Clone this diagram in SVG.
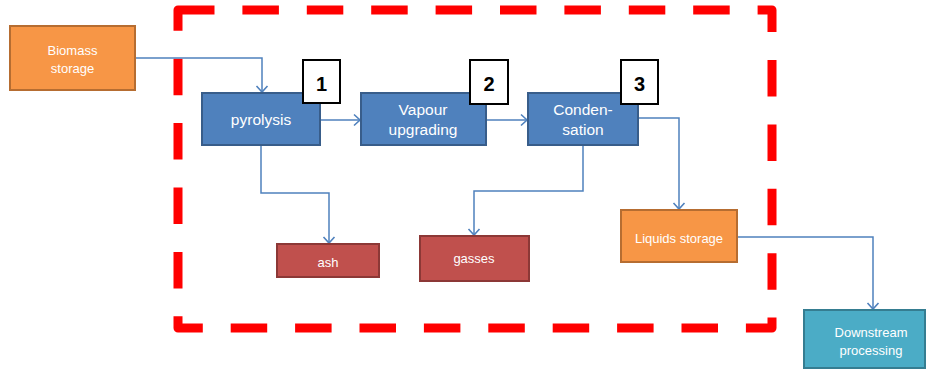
<svg xmlns="http://www.w3.org/2000/svg" width="926" height="371" viewBox="0 0 926 371">
  <style>
    .lbl { font-family: "Liberation Sans", Arial, sans-serif; fill: #ffffff; text-anchor: middle; }
    .sm { font-size: 13px; }
    .md { font-size: 15.5px; }
    .num { font-family: "Liberation Sans", Arial, sans-serif; font-size: 20px; font-weight: bold; fill: #000000; text-anchor: middle; }
    .orange { fill: #F79646; stroke: #B66D31; stroke-width: 2; }
    .blue { fill: #4F81BD; stroke: #385D8A; stroke-width: 2; }
    .red { fill: #C0504D; stroke: #8C3836; stroke-width: 2; }
    .teal { fill: #4BACC6; stroke: #357D91; stroke-width: 2; }
    .tag { fill: #ffffff; stroke: #000000; stroke-width: 2; }
    .conn { fill: none; stroke: #4F81BD; stroke-width: 1.5; marker-end: url(#arrow); }
    .boundary { fill: none; stroke: #FF0000; stroke-width: 9; stroke-dasharray: 36.5 27.9; stroke-linejoin: round; }
  </style>
  <defs>
    <marker id="arrow" markerUnits="userSpaceOnUse" markerWidth="14" markerHeight="14" viewBox="-8 -7 10 14" refX="0" refY="0" orient="auto">
      <path d="M-6,-5.5 L0,0 L-6,5.5" fill="none" stroke="#4F81BD" stroke-width="1.6"/>
    </marker>
  </defs>

  <rect width="926" height="371" fill="#ffffff"/>

  <!-- system boundary -->
  <path class="boundary" d="M178,10 H772 V328 H178 Z"/>

  <!-- connectors -->
  <g id="connectors">
    <path class="conn" d="M135,58 H262 V92"/>
    <path class="conn" d="M320,120 H360"/>
    <path class="conn" d="M486,120 H527"/>
    <path class="conn" d="M638,118 H679 V209"/>
    <path class="conn" d="M261,145 V193 H329 V243"/>
    <path class="conn" d="M583,145 V191 H474 V235"/>
    <path class="conn" d="M737,237 H873 V309"/>
  </g>

  <g id="biomass-storage">
    <rect class="orange" x="10" y="26" width="125" height="64"/>
    <text class="lbl sm" x="72.5" y="55">Biomass</text>
    <text class="lbl sm" x="72.5" y="73">storage</text>
  </g>

  <g id="pyrolysis">
    <rect class="blue" x="202" y="93" width="118" height="52"/>
    <text class="lbl md" x="261" y="125">pyrolysis</text>
  </g>

  <g id="tag-1">
    <rect class="tag" x="303" y="60" width="37" height="43"/>
    <text class="num" x="321.5" y="91">1</text>
  </g>

  <g id="vapour-upgrading">
    <rect class="blue" x="361" y="93" width="125" height="52"/>
    <text class="lbl md" x="423" y="115">Vapour</text>
    <text class="lbl md" x="423" y="135">upgrading</text>
  </g>

  <g id="tag-2">
    <rect class="tag" x="470" y="60" width="38" height="44"/>
    <text class="num" x="489" y="91">2</text>
  </g>

  <g id="condensation">
    <rect class="blue" x="528" y="93" width="110" height="52"/>
    <text class="lbl md" x="583" y="115">Conden-</text>
    <text class="lbl md" x="583" y="135">sation</text>
  </g>

  <g id="tag-3">
    <rect class="tag" x="621" y="60" width="37" height="44"/>
    <text class="num" x="639.5" y="91">3</text>
  </g>

  <g id="ash">
    <rect class="red" x="277" y="244" width="102" height="33"/>
    <text class="lbl sm" x="328" y="267">ash</text>
  </g>

  <g id="gasses">
    <rect class="red" x="420" y="236" width="109" height="45"/>
    <text class="lbl sm" x="474" y="263">gasses</text>
  </g>

  <g id="liquids-storage">
    <rect class="orange" x="621" y="210" width="116" height="52"/>
    <text class="lbl sm" x="679" y="243">Liquids storage</text>
  </g>

  <g id="downstream-processing">
    <rect class="teal" x="804" y="310" width="121" height="58"/>
    <text class="lbl sm" x="871" y="337">Downstream</text>
    <text class="lbl sm" x="871" y="355">processing</text>
  </g>
</svg>
